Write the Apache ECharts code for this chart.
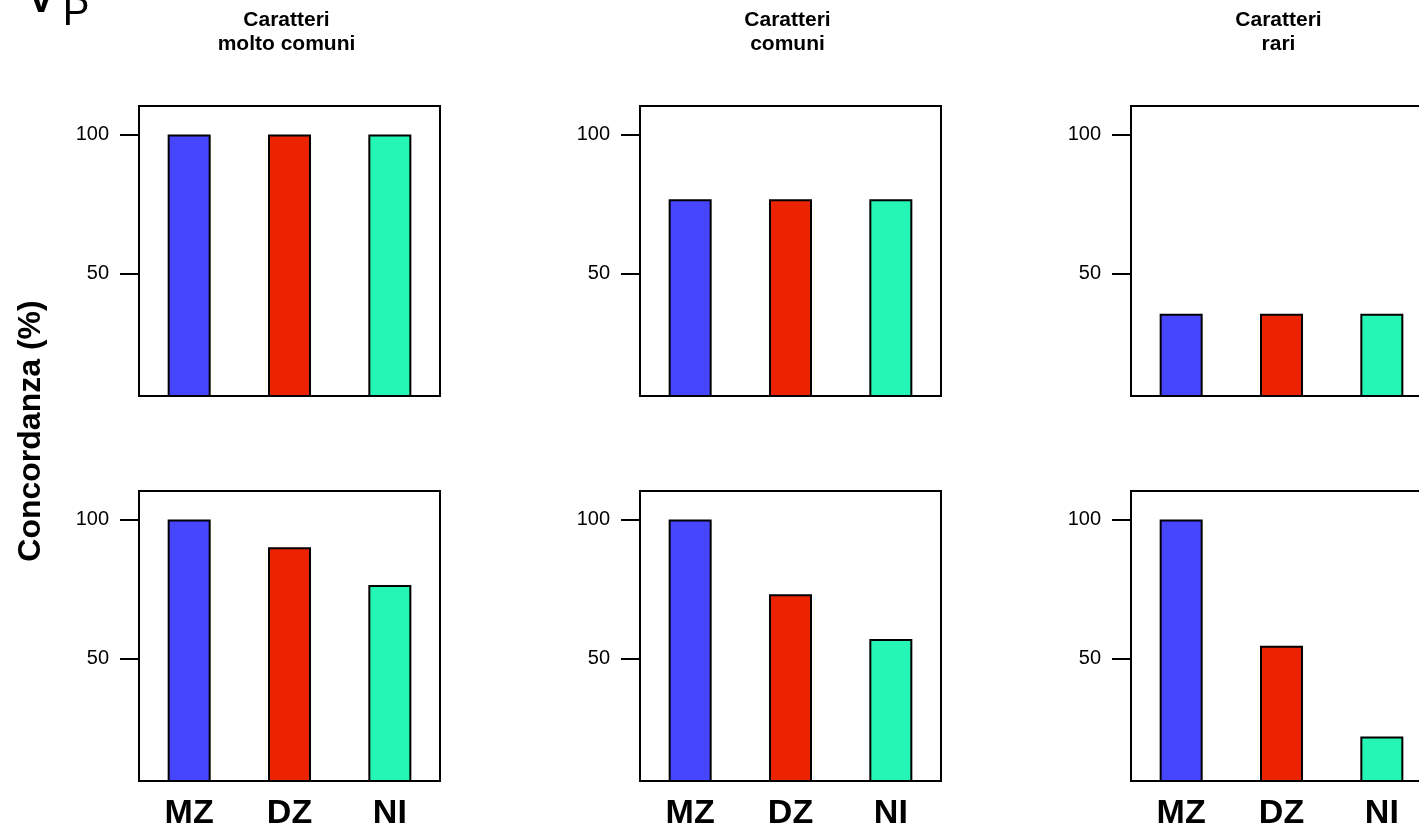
<!DOCTYPE html>
<html>
<head>
<meta charset="utf-8">
<script src="https://cdn.jsdelivr.net/npm/echarts@6/dist/echarts.min.js"></script>
<style>
html,body{margin:0;padding:0;background:#fff;overflow:hidden;width:1419px;height:833px;}
#chart{width:1460px;height:833px;}
</style>
</head>
<body>
<div id="chart"></div>
<script>
// ---- data ----
var categories = ['MZ', 'DZ', 'NI'];
var panelTitles = ['Caratteri\nmolto comuni', 'Caratteri\ncomuni', 'Caratteri\nrari'];
var yTickValues = [50, 100];
var topRowValues = [
  [100, 100, 100],
  [76.7, 76.7, 76.7],
  [35.4, 35.4, 35.4]
];
var bottomRowValues = [
  [100, 90, 76.4],
  [100, 73.1, 57],
  [100, 54.5, 21.8]
];
var yLabel = 'Concordanza (%)';

// ---- styles / layout ----
var barColors = ['#4646FF', '#EB2300', '#25F5B5'];
var FONT = "'Liberation Sans', Arial, Helvetica, sans-serif";
var panelLefts = [139, 640, 1131];
var panelWidth = 301;
var rowTops = [106, 491];
var panelHeight = 290;
var yMin = 5.8, yMax = 110.3;

var grids = [], xAxes = [], yAxes = [], series = [], graphics = [];
var rows = [topRowValues, bottomRowValues];
var idx = 0;
rows.forEach(function (rowVals, r) {
  rowVals.forEach(function (vals, c) {
    grids.push({
      left: panelLefts[c], top: rowTops[r], width: panelWidth, height: panelHeight,
      outerBoundsMode: 'none', containLabel: false,
      show: true, borderColor: '#000', borderWidth: 2, backgroundColor: 'transparent'
    });
    xAxes.push({
      type: 'category', gridIndex: idx, data: categories,
      axisLine: { show: false }, axisTick: { show: false },
      axisLabel: {
        show: r === 1, color: '#000', fontFamily: FONT, fontWeight: 'bold',
        fontSize: 34, margin: 16
      }
    });
    yAxes.push({
      type: 'value', gridIndex: idx, min: yMin, max: yMax,
      splitLine: { show: false },
      axisLine: { show: false },
      axisTick: { show: true, length: 19, customValues: yTickValues,
        lineStyle: { color: '#000', width: 2 } },
      axisLabel: { show: true, customValues: yTickValues, color: '#000',
        fontFamily: FONT, fontSize: 20, margin: 30 }
    });
    series.push({
      type: 'bar', xAxisIndex: idx, yAxisIndex: idx,
      barWidth: 43, clip: true,
      data: vals.map(function (v, k) {
        return { value: v, itemStyle: { color: barColors[k] } };
      }),
      itemStyle: { borderColor: '#000', borderWidth: 2 },
      emphasis: { disabled: true },
      silent: true
    });
    idx++;
  });
});

// panel titles
panelTitles.forEach(function (t, c) {
  graphics.push({
    type: 'text',
    x: panelLefts[c] + panelWidth / 2 - 3, y: 8,
    style: {
      text: t, fill: '#000', textAlign: 'center', textVerticalAlign: 'top',
      font: 'bold 21px ' + FONT, lineHeight: 24
    }
  });
});
// y label
graphics.push({
  type: 'text', x: 31, y: 431, rotation: Math.PI / 2,
  style: {
    text: yLabel, fill: '#000', textAlign: 'center', textVerticalAlign: 'middle',
    font: 'bold 32px ' + FONT
  }
});
// clipped panel letter "V" + "P"
graphics.push({
  type: 'text', x: 41, y: 21,
  style: { text: 'V', fill: '#000', textAlign: 'center', textVerticalAlign: 'bottom',
    font: 'bold 40px ' + FONT }
});
graphics.push({
  type: 'text', x: 76, y: 34,
  style: { text: 'P', fill: '#000', textAlign: 'center', textVerticalAlign: 'bottom',
    font: '40px ' + FONT }
});

var chart = echarts.init(document.getElementById('chart'), null, { renderer: 'canvas' });
chart.setOption({
  animation: false,
  backgroundColor: '#fff',
  grid: grids, xAxis: xAxes, yAxis: yAxes, series: series,
  graphic: graphics
});
</script>
</body>
</html>
